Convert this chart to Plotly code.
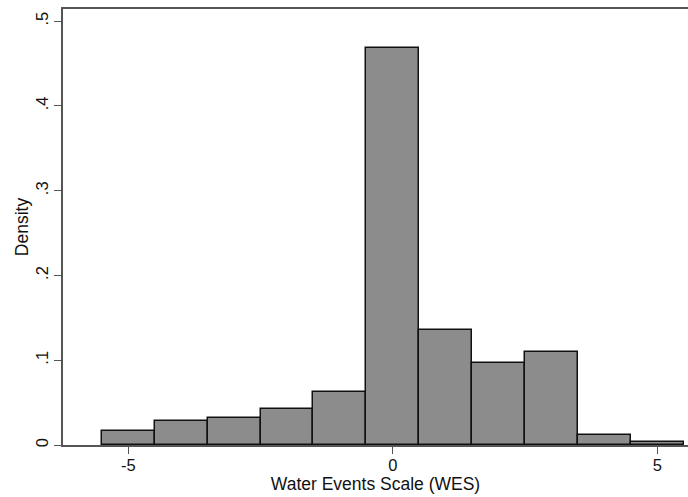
import plotly.graph_objects as go

# Histogram bins (centers) and densities
bin_centers = [-5, -4, -3, -2, -1, 0, 1, 2, 3, 4, 5]
density = [0.016, 0.028, 0.032, 0.042, 0.062, 0.468, 0.136, 0.097, 0.110, 0.012, 0.004]
y_ticks = [0, 0.1, 0.2, 0.3, 0.4, 0.5]
y_tick_labels = ["0", ".1", ".2", ".3", ".4", ".5"]
x_ticks = [-5, 0, 5]
x_tick_labels = ["-5", "0", "5"]

fig = go.Figure()
fig.add_trace(go.Bar(
    x=bin_centers, y=density, width=1.0,
    marker=dict(color="#8c8c8c", line=dict(color="#111111", width=1.5)),
    showlegend=False,
))

font_family = "Liberation Sans, Arial, Helvetica, sans-serif"
fig.update_layout(
    width=688, height=497,
    margin=dict(l=63, r=0, t=9, b=52),
    paper_bgcolor="white", plot_bgcolor="white",
    bargap=0,
    font=dict(family=font_family, size=16, color="#111111"),
    xaxis=dict(
        range=[-6.233, 5.579],
        tickvals=x_ticks, ticktext=x_tick_labels,
        ticks="outside", ticklen=7, tickwidth=1.3, tickcolor="#555555",
        ticklabelstandoff=-3,
        showline=True, linecolor="#555555", linewidth=1.5, mirror=True,
        showgrid=False, zeroline=False,
        tickfont=dict(size=16.5),
        title=dict(text="Water Events Scale (WES)", font=dict(size=17.5), standoff=0),
    ),
    yaxis=dict(
        range=[0, 0.5144],
        tickvals=y_ticks, ticktext=y_tick_labels,
        tickangle=-90,
        ticks="outside", ticklen=7, tickwidth=1.3, tickcolor="#555555",
        showline=True, linecolor="#555555", linewidth=1.5, mirror=False,
        showgrid=False, zeroline=False,
        tickfont=dict(size=16.5),
        title=dict(text="Density", font=dict(size=17.5), standoff=0),
    ),
)

fig.write_html("out.html")
